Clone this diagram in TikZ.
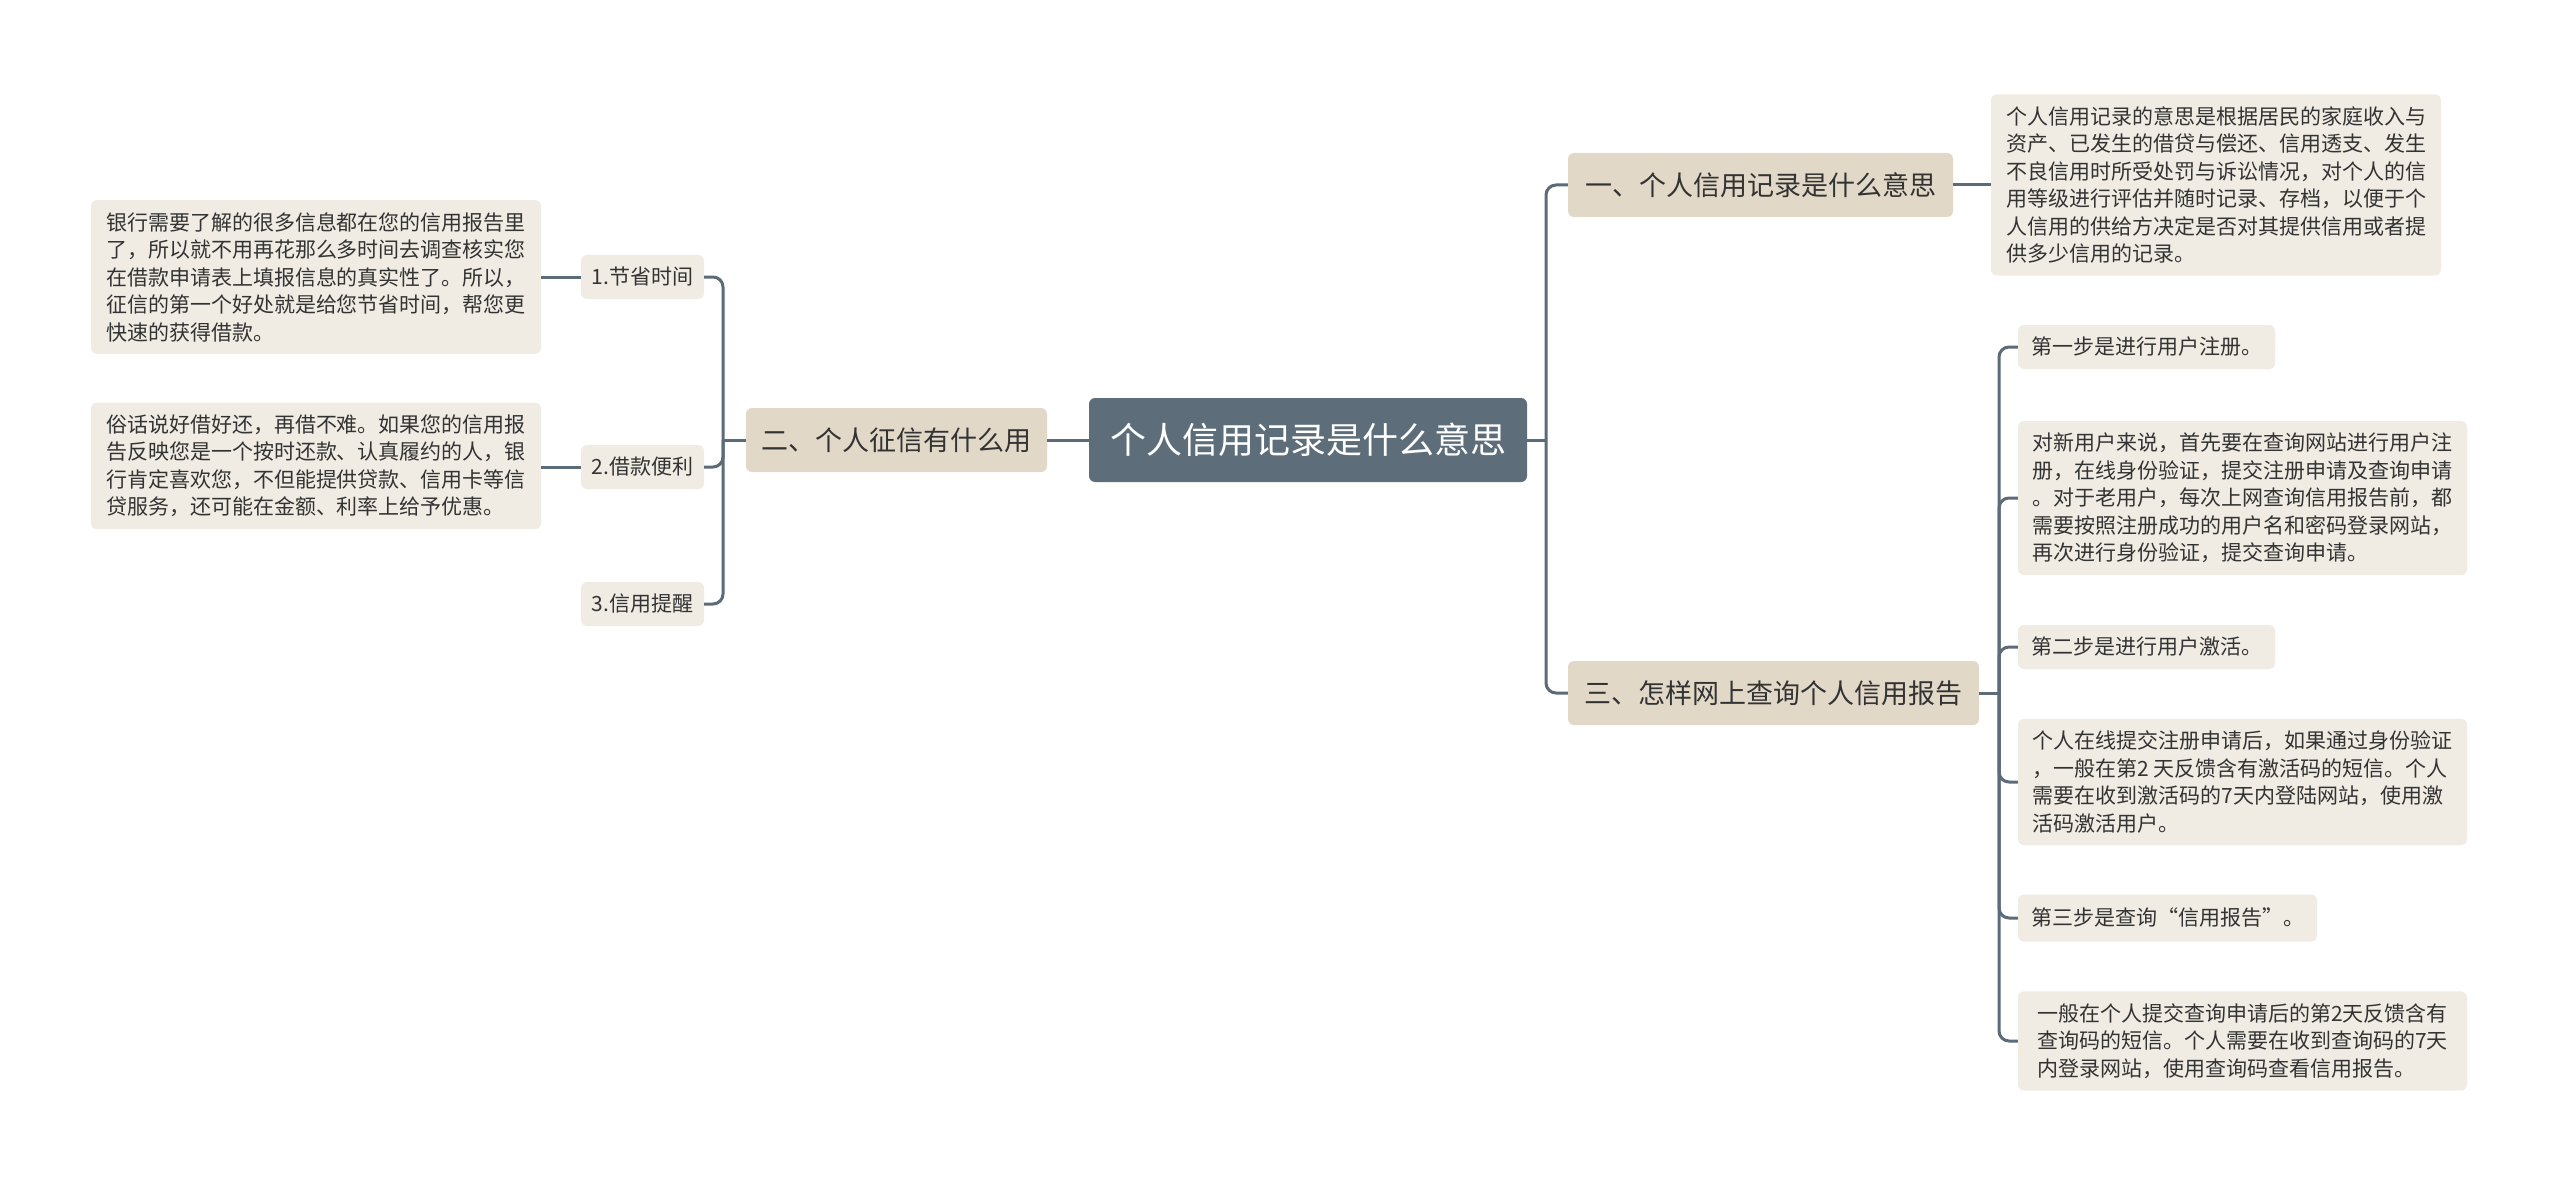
\documentclass[tikz,border=0pt]{standalone}
\usepackage{fontspec}
\setmainfont{Noto Sans CJK SC}
\definecolor{topicfill}{HTML}{5D6E7A}
\definecolor{branchfill}{HTML}{E2D8C8}
\definecolor{leaffill}{HTML}{F0ECE4}
\definecolor{linec}{HTML}{5B6B77}
\definecolor{textc}{HTML}{333333}
\begin{document}
\begin{tikzpicture}[x=1pt, y=-1pt,
    topic/.style={rectangle, rounded corners=6pt, fill=topicfill, text=white,
                  font=\fontsize{36}{42}\selectfont, minimum height=84pt, align=center},
    branch/.style={rectangle, rounded corners=6pt, fill=branchfill, text=textc,
                   font=\fontsize{27}{32}\selectfont, minimum height=64pt, align=center},
    leaf/.style={rectangle, rounded corners=6pt, fill=leaffill, text=textc,
                 font=\fontsize{21}{27.5}\selectfont, minimum height=44pt, align=center},
    note/.style={rectangle, rounded corners=6pt, fill=leaffill, text=textc,
                 font=\fontsize{21}{27.5}\selectfont, inner ysep=12pt, align=left},
    link/.style={line width=3pt, draw=linec, rounded corners=10pt}]

    \useasboundingbox [fill=white] (0,0) rectangle (2560,1185);

    \node (root) [topic,  minimum width=438pt] at (1308,440)   {个人信用记录是什么意思};

    % lijevo
    \node (b2)   [branch, minimum width=301pt] at (896.5,440)  {二、个人征信有什么用};
    \node (c1)   [leaf,   minimum width=123pt] at (642.5,277)  {1.节省时间};
    \node (c2)   [leaf,   minimum width=123pt] at (642.5,467)  {2.借款便利};
    \node (c3)   [leaf,   minimum width=123pt] at (642.5,604)  {3.信用提醒};
    \node (t1)   [note,   minimum width=450pt] at (316,277)    {银行需要了解的很多信息都在您的信用报告里\\了，所以就不用再花那么多时间去调查核实您\\在借款申请表上填报信息的真实性了。所以，\\征信的第一个好处就是给您节省时间，帮您更\\快速的获得借款。};
    \node (t2)   [note,   minimum width=450pt] at (316,466)    {俗话说好借好还，再借不难。如果您的信用报\\告反映您是一个按时还款、认真履约的人，银\\行肯定喜欢您，不但能提供贷款、信用卡等信\\贷服务，还可能在金额、利率上给予优惠。};

    % desno
    \node (b1)   [branch, minimum width=385pt] at (1760.5,185) {一、个人信用记录是什么意思};
    \node (r1)   [note,   minimum width=450pt] at (2216,185)   {个人信用记录的意思是根据居民的家庭收入与\\资产、已发生的借贷与偿还、信用透支、发生\\不良信用时所受处罚与诉讼情况，对个人的信\\用等级进行评估并随时记录、存档，以便于个\\人信用的供给方决定是否对其提供信用或者提\\供多少信用的记录。};
    \node (b3)   [branch, minimum width=411pt] at (1773.5,693) {三、怎样网上查询个人信用报告};
    \node (s1)   [leaf,   minimum width=257pt] at (2146.5,347) {第一步是进行用户注册。};
    \node (s2)   [note,   minimum width=449pt] at (2242.5,498) {对新用户来说，首先要在查询网站进行用户注\\册，在线身份验证，提交注册申请及查询申请\\。对于老用户，每次上网查询信用报告前，都\\需要按照注册成功的用户名和密码登录网站，\\再次进行身份验证，提交查询申请。};
    \node (s3)   [leaf,   minimum width=257pt] at (2146.5,647) {第二步是进行用户激活。};
    \node (s4)   [note,   minimum width=449pt] at (2242.5,782) {个人在线提交注册申请后，如果通过身份验证\\，一般在第2 天反馈含有激活码的短信。个人\\需要在收到激活码的7天内登陆网站，使用激\\活码激活用户。};
    \node (s5)   [leaf,   minimum width=299pt, minimum height=47pt] at (2167.5,918) {第三步是查询“信用报告”。};
    \node (s6)   [note,   minimum width=449pt] at (2242.5,1041) {一般在个人提交查询申请后的第2天反馈含有\\查询码的短信。个人需要在收到查询码的7天\\内登录网站，使用查询码查看信用报告。};

    % debla
    \coordinate (lt) at (723,0);
    \coordinate (rt) at (1546,0);
    \coordinate (st) at (1999,0);

    % veze
    \draw [link] (root.west) -- (b2.east);
    \draw [link] (b2.west) -- (lt |- b2.west);
    \foreach \c in {c1,c2,c3}
        \draw [link] (lt |- b2.west) |- (\c.east);
    \draw [link] (c1.west) -- (t1.east |- c1.west);
    \draw [link] (c2.west) -- (t2.east |- c2.west);

    \draw [link] (root.east) -- (rt |- root.east);
    \foreach \b in {b1,b3}
        \draw [link] (rt |- root.east) |- (\b.west);
    \draw [link] (b1.east) -- (r1.west |- b1.east);
    \draw [link] (b3.east) -- (st |- b3.east);
    \foreach \s in {s1,s2,s3,s4,s5,s6}
        \draw [link] (st |- b3.east) |- (\s.west);
\end{tikzpicture}
\end{document}
